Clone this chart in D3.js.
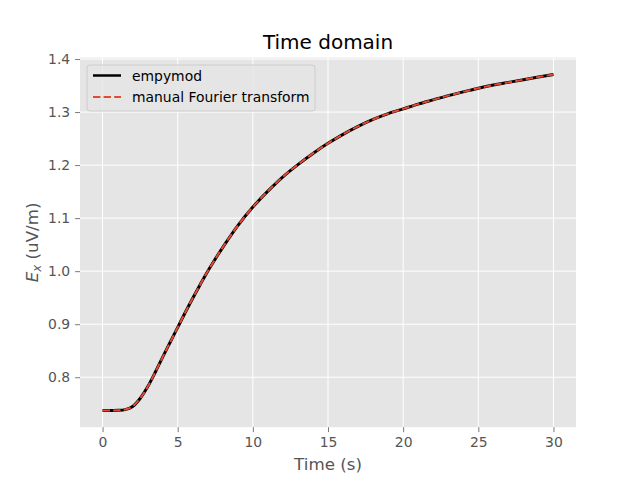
<!DOCTYPE html>
<html><head><meta charset="utf-8">
<script src="https://cdn.jsdelivr.net/npm/d3@7"></script>
<style>body{margin:0;background:#fff}svg{display:block;font-family:"DejaVu Sans",sans-serif}</style>
</head><body><svg id="c" width="640" height="480"></svg>
<script>
const times = [0,0.5,1,1.5,2,2.5,3,3.5,4,4.5,5,5.5,6,6.5,7,7.5,8,9,10,11,12,13,14,15,16,17,18,19,20,21,22,23,24,25,26,27,28,29,30];
const empymodValues = [0.7375,0.7375,0.7376,0.739,0.745,0.760,0.782,0.809,0.838,0.866,0.894,0.922,0.949,0.975,1.000,1.023,1.045,1.086,1.121,1.151,1.178,1.201,1.222,1.241,1.258,1.273,1.286,1.297,1.306,1.315,1.323,1.331,1.338,1.345,1.351,1.356,1.361,1.366,1.371];
const manualValues = empymodValues.slice();
const xTicks = [0,5,10,15,20,25,30];
const yTicks = [0.8,0.9,1.0,1.1,1.2,1.3,1.4];
const seriesNames = ["empymod","manual Fourier transform"];

const svg = d3.select("#c");
const L=80,R=576,T=57.6,B=427.2;
const x = d3.scaleLinear().domain([-1.5,31.5]).range([L,R]);
const y = d3.scaleLinear().domain([0.7058,1.4027]).range([B,T]);

svg.append("rect").attr("x",L).attr("y",T).attr("width",R-L).attr("height",B-T).attr("fill","#E5E5E5");

// grid
svg.append("g").selectAll("line").data(xTicks).join("line")
  .attr("x1",d=>x(d)).attr("x2",d=>x(d)).attr("y1",T).attr("y2",B)
  .attr("stroke","#fff").attr("stroke-width",1);
svg.append("g").selectAll("line").data(yTicks).join("line")
  .attr("y1",d=>y(d)).attr("y2",d=>y(d)).attr("x1",L).attr("x2",R)
  .attr("stroke","#fff").attr("stroke-width",1);

// axes
const xa = svg.append("g").attr("transform",`translate(0,${B})`)
  .call(d3.axisBottom(x).tickValues(xTicks).tickSize(4.9).tickPadding(4.9).tickFormat(d3.format("d")));
const ya = svg.append("g").attr("transform",`translate(${L},0)`)
  .call(d3.axisLeft(y).tickValues(yTicks).tickSize(4.9).tickPadding(4.9).tickFormat(d3.format(".1f")));
[xa,ya].forEach(a=>{
  a.select(".domain").remove();
  a.selectAll(".tick line").attr("stroke","#555555").attr("stroke-width",0.8);
  a.selectAll(".tick text").attr("fill","#555555").attr("font-size","13.9px").attr("font-family","DejaVu Sans");
});

// lines
const line = d3.line().x((d,i)=>x(times[i])).y(d=>y(d)).curve(d3.curveCatmullRom.alpha(0.5));
svg.append("path").datum(empymodValues).attr("d",line).attr("fill","none")
  .attr("stroke","#000").attr("stroke-width",3);
svg.append("path").datum(manualValues).attr("d",line).attr("fill","none")
  .attr("stroke","#E24A33").attr("stroke-width",2).attr("stroke-dasharray","7.4,3.2");

// title and labels
svg.append("text").attr("x",(L+R)/2).attr("y",49).attr("text-anchor","middle")
  .attr("font-size","20px").attr("fill","#000").text("Time domain");
svg.append("text").attr("x",(L+R)/2).attr("y",470).attr("text-anchor","middle")
  .attr("font-size","16.7px").attr("fill","#555555").text("Time (s)");
const yl = svg.append("text").attr("transform",`translate(38,${(T+B)/2}) rotate(-90)`)
  .attr("text-anchor","middle").attr("font-size","16.7px").attr("fill","#555555");
yl.append("tspan").attr("font-style","italic").text("E");
yl.append("tspan").attr("font-style","italic").attr("font-size","11.7px").attr("dy","3").text("x");
yl.append("tspan").attr("dy","-3").text(" (uV/m)");

// legend
const lg = svg.append("g");
lg.append("rect").attr("x",87).attr("y",65).attr("width",228).attr("height",46).attr("rx",3)
  .attr("fill","#E5E5E5").attr("fill-opacity",0.8).attr("stroke","#cccccc").attr("stroke-width",1);
const styles=[{c:"#000",w:2.5,d:null},{c:"#E24A33",w:2,d:"7.4,3.2"}];
seriesNames.forEach((n,i)=>{
  const yy = 75.5 + i*21.5;
  const l = lg.append("line").attr("x1",93).attr("x2",121).attr("y1",yy).attr("y2",yy)
    .attr("stroke",styles[i].c).attr("stroke-width",styles[i].w);
  if(styles[i].d) l.attr("stroke-dasharray",styles[i].d);
  lg.append("text").attr("x",132).attr("y",yy+5).attr("font-size","13.9px").attr("fill","#000").text(n);
});
</script></body></html>
